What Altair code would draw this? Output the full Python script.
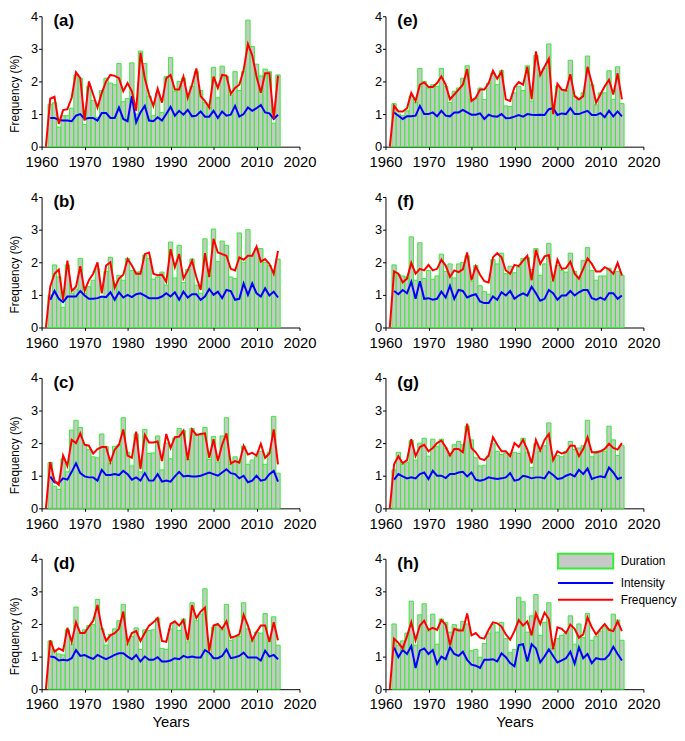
import altair as alt
import pandas as pd

years = list(range(1962, 2016))
freq_years = list(range(1961, 2016))
series_names = ["Duration", "Intensity", "Frequency"]
x_ticks = [1960, 1970, 1980, 1990, 2000, 2010, 2020]
y_ticks = [0, 1, 2, 3, 4]

# ---------------- panel (a)
dur_a = [1.3, 1.35, 0.6, 0.95, 0.95, 1.18, 2.2, 2.1, 0.68, 1.85, 1.42, 0.9, 1.72, 2.1, 1.95, 1.9, 2.55, 1.38, 1.48, 2.57,
         1.0, 2.93, 2.55, 1.55, 0.95, 1.65, 1.05, 2.15, 2.73, 1.7, 2.0, 2.1, 1.55, 1.85, 2.3, 1.72, 1.35, 1.2, 2.43, 1.5,
         2.47, 2.15, 1.58, 2.3, 1.72, 2.3, 3.88, 3.07, 2.53, 2.17, 2.38, 2.3, 0.72, 2.2]
int_a = [0.88, 0.88, 0.82, 0.8, 0.8, 0.78, 0.95, 1.0, 0.85, 0.88, 0.88, 0.8, 1.03, 1.03, 0.88, 0.88, 1.2, 0.85, 0.78, 1.55,
         0.75, 1.05, 1.25, 0.8, 0.78, 0.9, 0.8, 1.0, 1.22, 0.95, 1.1, 0.98, 1.13, 0.93, 0.95, 1.08, 0.92, 0.92, 1.1, 0.88,
         1.08, 0.95, 0.98, 1.25, 0.92, 1.0, 1.2, 1.1, 1.18, 1.28, 1.05, 1.02, 0.85, 0.98]
freq_a = [0.0, 1.47, 1.53, 0.7, 1.12, 1.15, 1.5, 2.28, 2.1, 0.8, 2.0, 1.6, 1.2, 1.65, 2.0, 2.2, 2.17, 2.1, 1.7, 1.95, 1.7,
          1.1, 2.88, 2.1, 1.6, 1.25, 1.78, 1.35, 2.1, 2.2, 1.75, 1.75, 2.15, 1.5, 1.9, 2.4, 1.55, 1.4, 1.2, 2.15, 1.8,
          2.2, 2.18, 1.62, 1.8, 1.9, 2.35, 3.15, 2.8, 2.15, 1.65, 2.25, 2.25, 0.85, 2.18]

# ---------------- panel (b)
dur_b = [1.0, 1.92, 1.55, 0.62, 1.92, 1.05, 1.18, 2.12, 1.05, 1.25, 1.45, 1.8, 0.95, 1.72, 2.15, 1.28, 1.6, 1.45, 2.12, 1.75,
         1.7, 1.72, 2.22, 2.12, 1.48, 1.55, 1.7, 1.3, 2.62, 1.52, 2.52, 1.38, 1.78, 2.1, 1.3, 1.05, 2.72, 1.6, 3.02, 2.02,
         2.65, 2.52, 1.55, 1.5, 2.9, 2.0, 3.0, 2.2, 2.42, 2.42, 2.0, 1.9, 1.75, 2.1]
int_b = [0.85, 1.12, 0.88, 0.78, 0.95, 0.95, 0.95, 1.12, 0.98, 0.88, 0.88, 0.9, 0.95, 0.93, 1.08, 0.85, 1.08, 0.92, 1.0, 0.93,
         1.02, 1.05, 0.98, 0.9, 0.9, 0.9, 0.95, 1.05, 0.95, 1.08, 0.85, 1.1, 0.92, 1.02, 1.02, 0.85, 0.95, 1.18, 1.0, 1.1,
         0.9, 1.15, 1.12, 0.85, 0.88, 1.35, 1.0, 1.35, 1.05, 0.95, 1.2, 0.98, 1.1, 0.92]
freq_b = [0.0, 1.25, 1.65, 1.78, 0.85, 2.05, 1.12, 1.25, 1.88, 1.12, 1.45, 1.65, 2.0, 1.05, 1.9, 2.0, 1.22, 1.5, 1.62, 2.1,
          1.9, 1.65, 1.65, 2.25, 2.3, 1.65, 1.6, 1.62, 1.4, 2.4, 1.85, 2.25, 1.5, 1.75, 2.05, 1.55, 1.15, 2.28, 1.55, 2.72,
          2.3, 2.25, 2.2, 1.8, 1.75, 2.15, 2.08, 2.2, 2.2, 2.48, 2.02, 2.1, 1.95, 1.65, 2.35]

# ---------------- panel (c)
dur_c = [1.4, 0.68, 0.58, 1.52, 1.12, 2.4, 2.7, 2.48, 1.95, 1.8, 1.58, 1.55, 2.28, 1.9, 1.38, 1.9, 1.95, 2.78, 1.72, 1.3,
         2.28, 1.12, 2.42, 1.68, 1.7, 2.22, 1.18, 2.0, 1.52, 2.15, 2.45, 2.38, 1.5, 2.45, 2.25, 2.25, 2.48, 1.5, 2.2, 1.42,
         2.22, 2.78, 1.35, 1.58, 1.45, 1.9, 1.35, 1.48, 1.58, 1.75, 1.35, 1.72, 2.82, 1.08]
int_c = [0.97, 0.8, 0.78, 0.92, 0.88, 1.12, 1.38, 1.08, 0.98, 0.95, 0.95, 0.85, 1.18, 1.02, 1.02, 1.05, 1.02, 1.15, 1.05, 0.88,
         0.95, 0.85, 1.08, 0.85, 0.85, 1.05, 0.82, 0.85, 0.82, 0.98, 1.12, 0.98, 1.0, 0.98, 0.98, 1.0, 1.05, 1.1, 1.05, 1.0,
         1.1, 1.2, 1.08, 1.05, 0.92, 1.0, 0.8, 0.85, 1.0, 0.85, 0.88, 1.05, 1.15, 0.82]
freq_c = [0.0, 1.42, 0.85, 0.72, 1.62, 1.3, 2.1, 2.0, 2.3, 1.95, 1.92, 1.68, 1.82, 1.88, 1.88, 1.42, 1.8, 1.95, 2.42, 1.62,
          1.55, 2.35, 1.2, 2.25, 2.02, 2.02, 2.05, 1.45, 2.28, 1.85, 2.18, 2.2, 2.38, 1.48, 2.42, 2.25, 2.28, 2.3, 1.55, 2.12,
          1.45, 1.95, 2.3, 1.38, 1.45, 1.4, 1.92, 1.65, 1.7, 1.62, 1.98, 1.55, 1.68, 2.42, 1.35]

# ---------------- panel (d)
dur_d = [1.48, 1.2, 1.08, 1.05, 1.82, 1.38, 2.52, 1.72, 1.82, 1.95, 1.98, 2.75, 1.85, 1.35, 1.68, 1.85, 2.1, 2.6, 1.38, 1.62,
         1.88, 1.22, 1.82, 1.8, 1.82, 2.18, 1.25, 1.22, 1.85, 2.02, 1.8, 2.15, 1.45, 2.65, 2.1, 2.3, 3.08, 1.08, 1.9, 1.95,
         1.82, 2.6, 1.5, 1.62, 1.62, 2.65, 1.85, 1.48, 1.75, 1.72, 2.32, 1.48, 2.22, 1.35]
int_d = [1.0, 0.98, 0.88, 0.9, 0.88, 0.95, 1.2, 1.02, 1.05, 0.98, 0.93, 1.05, 0.98, 0.92, 0.98, 1.05, 1.1, 1.1, 1.0, 0.92,
         1.05, 0.85, 1.0, 0.9, 0.9, 0.98, 0.85, 0.85, 0.88, 0.95, 0.92, 1.02, 0.97, 1.0, 0.97, 0.97, 1.2, 1.12, 0.95, 0.95,
         1.02, 1.22, 0.95, 0.98, 1.02, 1.12, 0.97, 0.97, 0.97, 0.88, 1.18, 1.0, 1.05, 0.92]
freq_d = [0.0, 1.5, 1.15, 1.25, 1.18, 1.88, 1.45, 2.05, 1.72, 1.72, 1.92, 2.1, 2.58, 1.88, 1.48, 1.65, 1.72, 1.85, 2.38, 1.42,
          1.72, 1.78, 1.48, 1.72, 1.95, 2.05, 2.18, 1.48, 1.45, 2.0, 2.08, 1.95, 2.12, 1.5, 2.58, 2.18, 2.38, 2.5, 1.15, 1.95,
          2.0, 1.85, 2.08, 1.58, 1.62, 1.68, 2.28, 1.95, 1.5, 1.75, 1.95, 1.95, 1.45, 2.05, 1.5]

# ---------------- panel (e)
dur_e = [1.32, 1.0, 0.95, 1.1, 1.55, 1.35, 2.4, 2.0, 1.8, 1.9, 1.85, 2.4, 1.85, 1.35, 1.7, 1.8, 2.1, 2.48, 1.45, 1.48,
         1.8, 1.45, 1.95, 2.25, 1.9, 2.33, 1.25, 1.23, 1.65, 1.85, 1.72, 2.48, 1.4, 2.8, 2.2, 2.4, 3.15, 1.15, 1.85, 1.75,
         1.72, 2.65, 1.55, 1.45, 1.65, 2.78, 1.9, 1.28, 1.65, 1.65, 2.33, 1.45, 2.45, 1.32]
int_e = [1.05, 0.95, 0.85, 0.93, 0.93, 0.95, 1.25, 1.0, 1.0, 1.05, 0.93, 1.1, 0.95, 0.93, 1.05, 1.05, 1.13, 1.05, 0.98, 0.98,
         1.02, 0.85, 0.98, 0.93, 0.92, 1.0, 0.87, 0.88, 0.92, 0.97, 0.92, 1.0, 0.98, 0.97, 0.98, 0.97, 1.15, 1.18, 0.97, 1.02,
         1.0, 1.18, 1.0, 1.0, 1.05, 1.1, 0.97, 0.97, 1.03, 0.9, 1.1, 0.93, 1.08, 0.93]
freq_e = [0.0, 1.25, 1.08, 1.08, 1.18, 1.65, 1.4, 1.9, 1.97, 1.83, 1.83, 1.95, 2.15, 1.9, 1.45, 1.6, 1.75, 1.9, 2.38, 1.4,
          1.5, 1.75, 1.75, 1.95, 2.33, 2.08, 2.3, 1.45, 1.4, 1.82, 1.98, 1.9, 2.45, 1.45, 2.92, 2.2, 2.45, 2.7, 1.0, 1.93,
          1.75, 1.72, 2.22, 1.55, 1.45, 1.55, 2.45, 1.95, 1.35, 1.6, 1.85, 2.05, 1.6, 2.25, 1.45]

# ---------------- panel (f)
dur_f = [1.92, 1.62, 1.58, 1.55, 2.78, 1.45, 2.6, 1.5, 1.75, 1.48, 1.58, 2.25, 1.72, 1.95, 1.52, 1.95, 2.0, 2.2, 1.42, 1.9,
         1.28, 1.1, 1.02, 2.08, 1.95, 2.28, 1.65, 1.88, 1.68, 1.85, 2.12, 2.15, 1.78, 2.42, 1.6, 1.95, 2.58, 1.42, 1.9, 1.75,
         1.7, 2.28, 1.72, 1.55, 2.05, 2.45, 1.75, 1.45, 1.58, 1.58, 1.82, 1.68, 1.72, 1.6]
int_f = [1.12, 1.02, 1.15, 1.05, 1.4, 0.88, 1.42, 0.88, 0.9, 0.85, 0.88, 1.1, 0.92, 1.28, 0.88, 1.15, 1.12, 0.92, 0.98, 1.02,
         0.8, 0.75, 0.75, 0.95, 0.85, 1.08, 0.98, 1.12, 0.88, 0.98, 1.05, 0.98, 1.25, 1.05, 0.82, 0.88, 1.15, 1.05, 0.85, 0.98,
         0.98, 1.12, 0.98, 1.08, 1.15, 1.15, 0.9, 0.85, 0.92, 0.85, 1.05, 1.05, 0.88, 0.98]
freq_f = [0.0, 1.72, 1.65, 1.38, 1.5, 1.98, 1.65, 1.8, 1.75, 1.92, 1.75, 1.8, 2.08, 1.9, 1.55, 1.75, 1.7, 1.78, 2.3, 1.45,
          1.88, 1.62, 1.42, 1.38, 2.15, 2.28, 2.15, 1.75, 1.65, 1.92, 1.88, 2.05, 2.2, 1.45, 2.38, 1.95, 2.18, 2.22, 1.42, 2.08,
          1.8, 1.82, 2.02, 1.65, 1.5, 1.8, 2.12, 1.95, 1.72, 1.72, 1.85, 1.78, 1.65, 1.98, 1.6]

# ---------------- panel (g)
dur_g = [1.18, 1.72, 1.35, 1.42, 2.08, 1.48, 2.0, 2.15, 1.6, 2.12, 1.9, 2.12, 1.85, 1.62, 1.95, 2.05, 1.95, 2.52, 2.1, 1.55,
         1.3, 1.32, 1.6, 1.98, 1.75, 1.65, 1.7, 1.68, 1.72, 1.68, 2.15, 1.72, 1.25, 1.98, 1.75, 1.92, 2.62, 1.5, 1.62, 1.58,
         1.75, 2.05, 1.8, 1.85, 1.92, 2.7, 1.58, 1.68, 1.75, 1.75, 2.52, 2.1, 1.62, 1.92]
int_g = [0.88, 1.05, 0.98, 0.92, 0.95, 0.92, 1.05, 1.1, 0.9, 1.15, 1.0, 1.0, 0.93, 1.05, 1.05, 1.1, 1.12, 0.98, 1.1, 0.88,
         0.85, 0.88, 0.95, 0.92, 0.9, 0.92, 0.95, 1.08, 0.85, 0.88, 1.0, 0.97, 0.92, 0.95, 0.95, 0.92, 1.12, 1.02, 0.9, 0.92,
         1.0, 1.05, 0.98, 1.18, 1.05, 1.22, 0.9, 0.95, 0.98, 0.95, 1.25, 1.1, 0.9, 0.95]
freq_g = [0.0, 1.35, 1.6, 1.38, 1.48, 2.12, 1.6, 1.88, 1.95, 1.75, 1.85, 2.0, 2.08, 1.88, 1.62, 1.82, 1.82, 1.72, 2.6, 1.85,
          1.72, 1.52, 1.48, 1.62, 2.18, 1.95, 1.75, 1.75, 1.6, 2.0, 1.88, 2.1, 1.8, 1.38, 2.1, 1.78, 2.1, 2.28, 1.48, 1.75,
          1.68, 1.72, 1.92, 1.92, 1.6, 1.82, 2.18, 1.72, 1.72, 1.75, 1.82, 1.98, 1.85, 1.8, 2.0]

# ---------------- panel (h)
dur_h = [2.0, 1.35, 1.48, 1.72, 2.7, 1.35, 2.28, 2.62, 1.78, 2.3, 1.38, 2.15, 2.05, 1.75, 1.98, 1.85, 2.08, 2.0, 1.18, 1.22,
         0.98, 1.4, 1.72, 1.98, 1.75, 2.05, 1.55, 1.12, 1.22, 2.82, 2.68, 1.75, 2.25, 2.9, 1.65, 2.05, 2.65, 1.25, 1.55, 1.65,
         1.72, 2.25, 1.38, 2.0, 1.58, 2.32, 1.5, 1.62, 1.78, 1.92, 1.85, 2.3, 2.12, 1.5]
int_h = [1.28, 0.98, 1.2, 1.08, 1.32, 0.65, 1.18, 1.25, 1.08, 1.2, 0.78, 1.0, 0.92, 1.28, 1.08, 1.02, 1.15, 0.9, 0.75, 0.72,
         0.65, 0.9, 0.9, 0.92, 0.85, 1.1, 0.98, 0.8, 0.7, 1.35, 1.38, 0.85, 1.38, 1.25, 0.82, 1.0, 1.22, 1.02, 0.82, 0.88,
         0.95, 1.15, 0.78, 1.28, 0.95, 1.08, 0.8, 0.95, 0.92, 0.92, 1.05, 1.3, 1.08, 0.88]
freq_h = [0.0, 1.55, 1.42, 1.25, 1.62, 2.05, 1.5, 1.95, 2.1, 1.82, 1.88, 1.82, 2.12, 1.98, 1.35, 1.85, 1.8, 1.8, 2.32, 1.65,
          1.72, 1.58, 1.55, 1.82, 2.05, 2.02, 1.92, 1.68, 1.52, 1.78, 2.12, 1.95, 2.08, 1.65, 2.32, 2.0, 2.35, 2.15, 1.22, 1.9,
          1.85, 1.72, 1.98, 1.85, 1.58, 1.68, 2.2, 1.9, 1.68, 1.85, 2.0, 1.82, 1.78, 2.08, 1.78]

panel_letters = ["(a)", "(b)", "(c)", "(d)", "(e)", "(f)", "(g)", "(h)"]

FONT = "Liberation Sans"
GRAY = "#c8c8c8"
GREEN = "#33ee33"
BLUE = "#0000ff"
RED = "#ff0000"
W, H = 261, 132


def panel(letter, dur, inten, freq, ytitle, xtitle, legend=False):
    df = pd.DataFrame({"year": years, "duration": dur, "intensity": inten})
    fdf = pd.DataFrame({"year": freq_years, "frequency": freq})
    xscale = alt.Scale(domain=[1960, 2020], nice=False, zero=False)
    yscale = alt.Scale(domain=[0, 4], nice=False)
    xaxis = alt.Axis(values=x_ticks, format="d", labelOverlap=False, labelFlush=False,
                     title=("Years" if xtitle else None))
    yaxis = alt.Axis(values=y_ticks, format="d", labelOverlap=False, labelFlush=False,
                     title=("Frequency (%)" if ytitle else None))

    bars = alt.Chart(df).transform_calculate(
        x0="datum.year - 0.5", x1="datum.year + 0.5"
    ).mark_rect(fill=GRAY, stroke=GREEN, strokeWidth=1).encode(
        x=alt.X("x0:Q", scale=xscale, axis=xaxis),
        x2="x1:Q",
        y=alt.Y("duration:Q", scale=yscale, axis=yaxis),
        y2=alt.datum(0),
    )
    blue = alt.Chart(df).mark_line(color=BLUE, strokeWidth=2).encode(
        x=alt.X("year:Q", scale=xscale, axis=xaxis),
        y=alt.Y("intensity:Q", scale=yscale, axis=yaxis),
    )
    red = alt.Chart(fdf).mark_line(color=RED, strokeWidth=2).encode(
        x=alt.X("year:Q", scale=xscale, axis=xaxis),
        y=alt.Y("frequency:Q", scale=yscale, axis=yaxis),
    )
    lab = alt.Chart(pd.DataFrame({"label": [letter]})).mark_text(
        font=FONT, fontSize=17, fontWeight="bold", align="left", baseline="middle", color="black"
    ).encode(x=alt.value(12), y=alt.value(5), text="label:N")
    layers = [bars, blue, red, lab]
    if legend:
        leg = alt.Legend(
            title=None, orient="none", legendX=540, legendY=541,
            symbolSize=348, symbolStrokeWidth=2, labelFont=FONT, labelFontSize=12,
            labelColor="black", labelOffset=25, rowPadding=0,
        )
        ldf = pd.DataFrame({"series": series_names})
        rect_path = "M-3,-0.8H3V0.8H-3Z"
        line_path = "M-3,0H3"
        legl = alt.Chart(ldf).transform_filter("false").mark_point(
            filled=True, opacity=1, strokeWidth=2
        ).encode(
            shape=alt.Shape("series:N", scale=alt.Scale(domain=series_names, range=[rect_path, line_path, line_path]), legend=leg),
            fill=alt.Fill("series:N", scale=alt.Scale(domain=series_names, range=[GRAY, "transparent", "transparent"]), legend=leg),
            stroke=alt.Stroke("series:N", scale=alt.Scale(domain=series_names, range=[GREEN, BLUE, RED]), legend=leg),
        )
        layers.append(legl)
    return alt.layer(*layers).properties(width=W, height=H)


pa = panel(panel_letters[0], dur_a, int_a, freq_a, True, False)
pb = panel(panel_letters[1], dur_b, int_b, freq_b, True, False)
pc = panel(panel_letters[2], dur_c, int_c, freq_c, True, False)
pd_ = panel(panel_letters[3], dur_d, int_d, freq_d, True, True)
pe = panel(panel_letters[4], dur_e, int_e, freq_e, False, False)
pf = panel(panel_letters[5], dur_f, int_f, freq_f, False, False)
pg = panel(panel_letters[6], dur_g, int_g, freq_g, False, False)
ph = panel(panel_letters[7], dur_h, int_h, freq_h, False, True, legend=True)

chart = alt.concat(
    pa, pe, pb, pf, pc, pg, pd_, ph,
    columns=2,
    spacing={"row": 51, "column": 87},
    bounds="flush",
).properties(
    padding={"left": 0, "top": -3, "right": 0, "bottom": -3}
).configure_view(
    stroke="transparent"
).configure_axis(
    grid=False, domainColor="black", tickColor="black", labelColor="black", titleColor="black",
    labelFont=FONT, titleFont=FONT, domainWidth=1, tickWidth=1, tickSize=3,
    titleFontWeight="normal",
).configure_axisY(
    labelFontSize=13, titleFontSize=12, labelPadding=1, titlePadding=9, titleY=78,
).configure_axisX(
    labelFontSize=15, titleFontSize=15, labelPadding=5, titlePadding=3,
).configure_legend(
    labelFont=FONT
)

chart.save("out.html", embed_options={"renderer": "svg", "actions": False})
